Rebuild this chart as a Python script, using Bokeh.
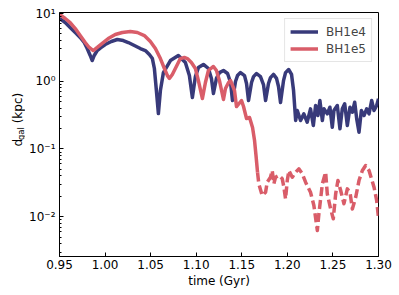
import math
from bokeh.plotting import figure
from bokeh.layouts import row
from bokeh.models import (Range1d, FixedTicker, PrintfTickFormatter, Legend,
                          LegendItem, Label)
from bokeh.embed import file_html
from bokeh.resources import INLINE

# ---------------- data ----------------
bh1e4_t = [0.9500, 0.9563, 0.9617, 0.9673, 0.9727, 0.9771, 0.9804, 0.9837, 0.9859,
           0.9881, 0.9914, 0.9958, 1.0002, 1.0068, 1.0134, 1.0200, 1.0255, 1.0321,
           1.0387, 1.0442, 1.0486, 1.0519, 1.0541, 1.0563, 1.0585, 1.0607, 1.0640,
           1.0717, 1.0804, 1.0881, 1.0925, 1.0958, 1.0991, 1.1024, 1.1079, 1.1134,
           1.1167, 1.1189, 1.1222, 1.1255, 1.1299, 1.1344, 1.1377, 1.1398, 1.1431,
           1.1453, 1.1486, 1.1530, 1.1552, 1.1574, 1.1607, 1.1629, 1.1662, 1.1705,
           1.1738, 1.1761, 1.1793, 1.1815, 1.1848, 1.1881, 1.1903, 1.1925, 1.1958,
           1.1980, 1.2014, 1.2046, 1.2068, 1.2091,
           1.2109, 1.2145, 1.2181, 1.2217, 1.2254, 1.2285, 1.2310, 1.2335, 1.2357,
           1.2384, 1.2401, 1.2438, 1.2467, 1.2493, 1.2511, 1.2548, 1.2577, 1.2603,
           1.2629, 1.2658, 1.2687, 1.2713, 1.2739, 1.2761, 1.2786, 1.2812, 1.2841,
           1.2870, 1.2896, 1.2925, 1.2951, 1.2980, 1.3000]
bh1e4_d = [8.44, 7.36, 6.21, 5.24, 4.42, 3.73, 3.04, 2.40, 2.02,
           2.40, 2.84, 3.15, 3.48, 3.86, 4.13, 3.99, 3.73, 3.37,
           3.04, 2.84, 2.48, 2.16, 1.54, 0.729, 0.333, 0.729, 1.34,
           2.02, 2.40, 1.89, 1.21, 0.574, 1.17, 1.59, 1.77, 1.54,
           1.10, 0.658, 1.10, 1.34, 1.44, 1.30, 0.957, 0.519, 0.990,
           1.21, 1.34, 1.21, 0.925, 0.519, 0.957, 1.17, 1.30, 1.17,
           0.894, 0.519, 0.925, 1.13, 1.26, 1.10, 0.835, 0.485, 1.02,
           1.34, 1.49, 1.26, 0.729, 0.263,
           0.369, 0.263, 0.330, 0.248, 0.391, 0.222, 0.438, 0.311, 0.519,
           0.263, 0.391, 0.330, 0.413, 0.209, 0.369, 0.438, 0.198, 0.391,
           0.464, 0.222, 0.413, 0.348, 0.490, 0.278, 0.176, 0.369, 0.311,
           0.391, 0.330, 0.519, 0.369, 0.438, 0.550]

bh1e5_t = [0.9500, 0.9563, 0.9617, 0.9673, 0.9727, 0.9782, 0.9826, 0.9870, 0.9914,
           0.9969, 1.0035, 1.0112, 1.0189, 1.0277, 1.0354, 1.0431, 1.0497, 1.0552,
           1.0607, 1.0651, 1.0684, 1.0706, 1.0738, 1.0793, 1.0826, 1.0870, 1.0903,
           1.0947, 1.0991, 1.1024, 1.1068, 1.1101, 1.1134, 1.1189, 1.1222, 1.1255,
           1.1299, 1.1321, 1.1355, 1.1377, 1.1420, 1.1442, 1.1497, 1.1519, 1.1552,
           1.1585, 1.1618, 1.1640, 1.1656, 1.1673]
bh1e5_d = [9.66, 8.44, 7.36, 6.00, 4.73, 3.73, 3.15, 2.84, 3.15,
           3.61, 4.27, 4.90, 5.24, 5.42, 5.24, 4.73, 3.86, 3.04,
           2.16, 1.54, 1.21, 1.10, 1.26, 1.77, 2.16, 2.24, 2.16,
           1.89, 1.54, 1.02, 0.555, 0.957, 1.44, 1.65, 1.44, 1.02,
           0.537, 0.780, 0.957, 1.02, 0.729, 0.423, 0.519, 0.423, 0.281,
           0.291, 0.207, 0.133, 0.0799, 0.0448]

# after ~1.167 Gyr the BH1e5 curve is drawn dashed
bh1e5_late_t = [1.1673, 1.1687, 1.1724, 1.1761, 1.1779, 1.1815, 1.1834, 1.1852, 1.1870,
                1.1907, 1.1944, 1.1962, 1.1980, 1.1999, 1.2017, 1.2054, 1.2091, 1.2126,
                1.2164, 1.2200, 1.2254, 1.2291, 1.2329, 1.2346, 1.2384, 1.2420, 1.2438,
                1.2475, 1.2504, 1.2530, 1.2555, 1.2585, 1.2621, 1.2658, 1.2687, 1.2713,
                1.2750, 1.2786, 1.2823, 1.2859, 1.2896, 1.2951, 1.2980, 1.2999]
bh1e5_late_d = [0.0448, 0.0305, 0.0205, 0.0229, 0.0322, 0.0382, 0.0480, 0.0305, 0.0382,
                0.0405, 0.0362, 0.0272, 0.0183, 0.0341, 0.0480, 0.0382, 0.0453, 0.0508,
                0.0429, 0.0322, 0.0229, 0.0146, 0.00623, 0.0110, 0.0305, 0.0453, 0.0217,
                0.0130, 0.00928, 0.0217, 0.0341, 0.0243, 0.0155, 0.0257, 0.0229, 0.0130,
                0.0193, 0.0341, 0.0480, 0.0569, 0.0480, 0.0272, 0.0173, 0.0098]

x_ticks = [0.95, 1.00, 1.05, 1.10, 1.15, 1.20, 1.25, 1.30]
y_ticks = [0.01, 0.1, 1, 10]
y_tick_labels = ["10⁻²", "10⁻¹", "10⁰", "10¹"]
series_names = ["BH1e4", "BH1e5"]

BLUE = "#383a7a"
RED = "#d95d69"
FONT = "DejaVu Sans"
H = 295
LW = 25  # width of the strip that carries the y-axis title

p = figure(width=399 - LW, height=H, x_range=Range1d(0.95, 1.30),
           y_range=Range1d(0.002576, 10.35), y_axis_type="log",
           output_backend="svg", toolbar_location=None,
           min_border_left=59 - LW, min_border_right=21, min_border_top=12,
           min_border_bottom=39)
p.xgrid.visible = False
p.ygrid.visible = False
p.outline_line_color = "black"
p.outline_line_width = 1
p.background_fill_color = "white"

rb = p.line(bh1e4_t, bh1e4_d, line_color=BLUE, line_width=3.5, line_join="round")
rr = p.line(bh1e5_t, bh1e5_d, line_color=RED, line_width=3.5, line_join="round")
rr2 = p.line(bh1e5_late_t, bh1e5_late_d, line_color=RED, line_width=3.5,
             line_dash="9 4", line_join="round")

xa = p.xaxis[0]
xa.ticker = FixedTicker(ticks=x_ticks)
xa.formatter = PrintfTickFormatter(format="%.2f")
xa.major_tick_in = 4
xa.major_tick_out = 0
xa.minor_tick_in = 0
xa.minor_tick_out = 0
xa.major_label_text_font = FONT
xa.major_label_text_font_size = "12px"
xa.major_label_text_color = "black"
xa.major_label_standoff = 3
xa.axis_label = "time (Gyr)"
xa.axis_label_text_font = FONT
xa.axis_label_text_font_size = "12px"
xa.axis_label_text_font_style = "normal"
xa.axis_label_text_color = "black"
xa.axis_label_standoff = 2
xa.axis_line_color = "black"
xa.major_tick_line_color = "black"

minor = [m * 10.0 ** k for k in (-3, -2, -1, 0) for m in range(2, 10)]
ya = p.yaxis[0]
ya.ticker = FixedTicker(ticks=y_ticks, minor_ticks=minor)
ya.major_label_overrides = {v: s for v, s in zip(y_ticks, y_tick_labels)}
ya.major_tick_in = 4
ya.major_tick_out = 0
ya.minor_tick_in = 2
ya.minor_tick_out = 0
ya.major_label_text_font = FONT
ya.major_label_text_font_size = "12px"
ya.major_label_text_color = "black"
ya.major_label_standoff = 4
ya.axis_line_color = "black"
ya.major_tick_line_color = "black"
ya.minor_tick_line_color = "black"

legend = Legend(items=[LegendItem(label=series_names[0], renderers=[rb]),
                       LegendItem(label=series_names[1], renderers=[rr])],
                location="top_right", margin=6, padding=5, spacing=2,
                glyph_width=28, glyph_height=15, label_height=15,
                label_standoff=8, label_text_font=FONT,
                label_text_font_size="12px", border_line_color="#cccccc",
                border_line_width=1, background_fill_alpha=0.8)
p.add_layout(legend)

# narrow strip on the left holding the y-axis title  d_gal (kpc)
s = figure(width=LW, height=H, x_range=Range1d(0, LW), y_range=Range1d(0, H),
           x_axis_type=None, y_axis_type=None, output_backend="svg",
           toolbar_location=None, min_border=0, outline_line_color=None)
s.xgrid.visible = False
s.ygrid.visible = False
for txt, x, y, size in [("d", 17, 133, "12px"), ("gal", 20, 140.8, "8.5px"),
                        ("(kpc)", 17, 161, "12px")]:
    s.add_layout(Label(x=x, y=y, text=txt, angle=math.pi / 2, text_align="left",
                       text_baseline="alphabetic", text_font=FONT,
                       text_font_size=size, text_color="black"))

open("out.html", "w").write(file_html(row(s, p), INLINE))
